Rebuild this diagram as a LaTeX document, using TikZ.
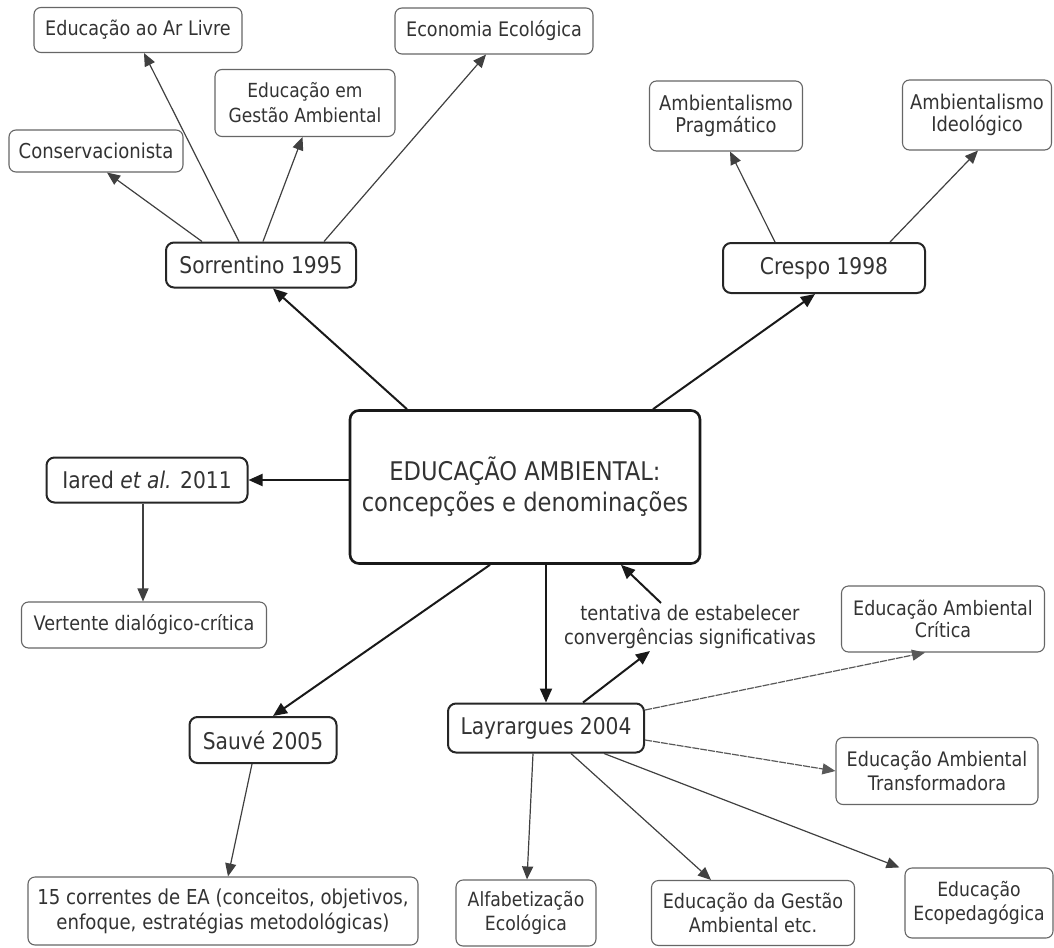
\documentclass[tikz,border=0pt]{standalone}
\usepackage{fontspec}
\setmainfont{DejaVu Sans}[FakeStretch=0.88]
\usetikzlibrary{arrows.meta}
\newcommand{\fz}[2]{\fontsize{#1}{#2}\selectfont}
\begin{document}
\begin{tikzpicture}[x=1pt,y=-1pt,
  box/.style={rounded corners=7pt, fill=white, inner sep=0pt, align=center, text=black!80},
  leaf/.style={box, draw=black!60, line width=1.1pt, font=\fz{20}{24}},
  head/.style={box, draw=black!85, line width=2pt, rounded corners=8pt, font=\fz{23}{27}},
  main/.style={box, draw=black!90, line width=2.6pt, rounded corners=9pt, font=\fz{25.7}{31}},
  big/.style={line width=2pt, draw=black!90, -{Triangle[length=14pt,width=12pt]}},
  thin/.style={line width=1.2pt, draw=black!75, -{Triangle[length=13pt,width=11pt]}},
  dsh/.style={thin, draw=black!65, dash pattern=on 7pt off 1pt}]
\useasboundingbox (0,0) rectangle (1054,947);
% Sorrentino and leaves
\node[leaf, minimum width=208pt, minimum height=45pt] (arlivre) at (138,30) {Educação ao Ar Livre};
\node[leaf, minimum width=198pt, minimum height=46pt] (economia) at (494,31) {Economia Ecológica};
\node[leaf, minimum width=180pt, minimum height=67pt, font=\fz{19.4}{25}] (gestaoA) at (305,103) {Educação em\\Gestão Ambiental};
\node[leaf, minimum width=174pt, minimum height=42pt, font=\fz{20.5}{24}] (conserv) at (96,151) {Conservacionista};
\node[head, minimum width=190pt, minimum height=45pt] (sorr) at (261,265) {Sorrentino 1995};
% Crespo and leaves
\node[leaf, minimum width=153pt, minimum height=70pt, font=\fz{20.3}{22}] (pragm) at (726,116) {Ambientalismo\\Pragmático};
\node[leaf, minimum width=149pt, minimum height=70pt, font=\fz{20.3}{22}] (ideol) at (977,115) {Ambientalismo\\Ideológico};
\node[head, minimum width=202pt, minimum height=50pt] (crespo) at (824,268) {Crespo 1998};
% central
\node[main, minimum width=350pt, minimum height=153pt] (central) at (525,487) {EDUCAÇÃO AMBIENTAL:\\concepções e denominações};
% Iared
\node[head, minimum width=201pt, minimum height=45pt] (iared) at (147,480) {Iared \textit{et al.} 2011};
\node[leaf, minimum width=245pt, minimum height=46pt] (vertente) at (144,625) {Vertente dialógico-crítica};
% Sauve
\node[head, minimum width=147pt, minimum height=46pt] (sauve) at (263,740) {Sauvé 2005};
\node[leaf, minimum width=390pt, minimum height=68pt, font=\fz{20.6}{25}] (correntes) at (223,911) {15 correntes de EA (conceitos, objetivos,\\enfoque, estratégias metodológicas)};
% Layrargues and leaves
\node[head, minimum width=196pt, minimum height=49pt] (layr) at (546,728) {Layrargues 2004};
\node[inner sep=2pt, align=center, text=black!80, font=\fz{20.3}{24}] (lbl) at (690,627) {tentativa de estabelecer\\convergências significativas};
\node[leaf, minimum width=203pt, minimum height=66pt, font=\fz{19.9}{22}] (critica) at (943,619) {Educação Ambiental\\Crítica};
\node[leaf, minimum width=202pt, minimum height=67pt] (transf) at (937,771) {Educação Ambiental\\Transformadora};
\node[leaf, minimum width=140pt, minimum height=66pt, font=\fz{19.6}{24}] (alfab) at (526,913) {Alfabetização\\Ecológica};
\node[leaf, minimum width=203pt, minimum height=65pt] (gestaoB) at (753,913) {Educação da Gestão\\Ambiental etc.};
\node[leaf, minimum width=148pt, minimum height=70pt, font=\fz{19.6}{24}] (ecoped) at (979,903) {Educação\\Ecopedagógica};
% main connectors
\draw[big] ([xshift=-118pt]central.north) -- ([xshift=12pt]sorr.south);
\draw[big] ([xshift=128pt]central.north) -- ([xshift=-9pt]crespo.south);
\draw[big] (central.west |- iared) -- (iared.east);
\draw[big] ([xshift=-35pt]central.south) -- ([xshift=10pt]sauve.north);
\draw[big] ([xshift=21pt]central.south) -- (layr.north);
\draw[big] ([xshift=37pt]layr.north) -- ([xshift=-40pt]lbl.south);
\draw[big] ([xshift=-29pt]lbl.north) -- ([xshift=96pt]central.south);
% Sorrentino leaves
\draw[thin] ([xshift=-59pt]sorr.north) -- ([xshift=11pt]conserv.south);
\draw[thin] ([xshift=-22pt]sorr.north) -- ([xshift=6pt]arlivre.south);
\draw[thin] ([xshift=2pt]sorr.north) -- ([xshift=-2.5pt]gestaoA.south);
\draw[thin] ([xshift=63pt]sorr.north) -- ([xshift=-8pt]economia.south);
% Crespo leaves
\draw[thin] ([xshift=-49pt]crespo.north) -- ([xshift=4pt]pragm.south);
\draw[thin] ([xshift=66pt]crespo.north) -- ([xshift=1pt]ideol.south);
% Iared, Sauve
\draw[thin] ([xshift=-4pt]iared.south) -- ([xshift=-1pt]vertente.north);
\draw[thin] ([xshift=-11pt]sauve.south) -- ([xshift=5pt]correntes.north);
% Layrargues leaves
\draw[dsh] ([yshift=18pt]layr.east) -- ([xshift=-18pt]critica.south);
\draw[dsh] ([yshift=-12pt]layr.east) -- (transf.west);
\draw[thin] ([xshift=-13pt]layr.south) -- ([xshift=1pt]alfab.north);
\draw[thin] ([xshift=25pt]layr.south) -- ([xshift=-42pt]gestaoB.north);
\draw[thin] ([xshift=58pt]layr.south) -- ([xshift=-5pt]ecoped.north west);
\end{tikzpicture}
\end{document}
